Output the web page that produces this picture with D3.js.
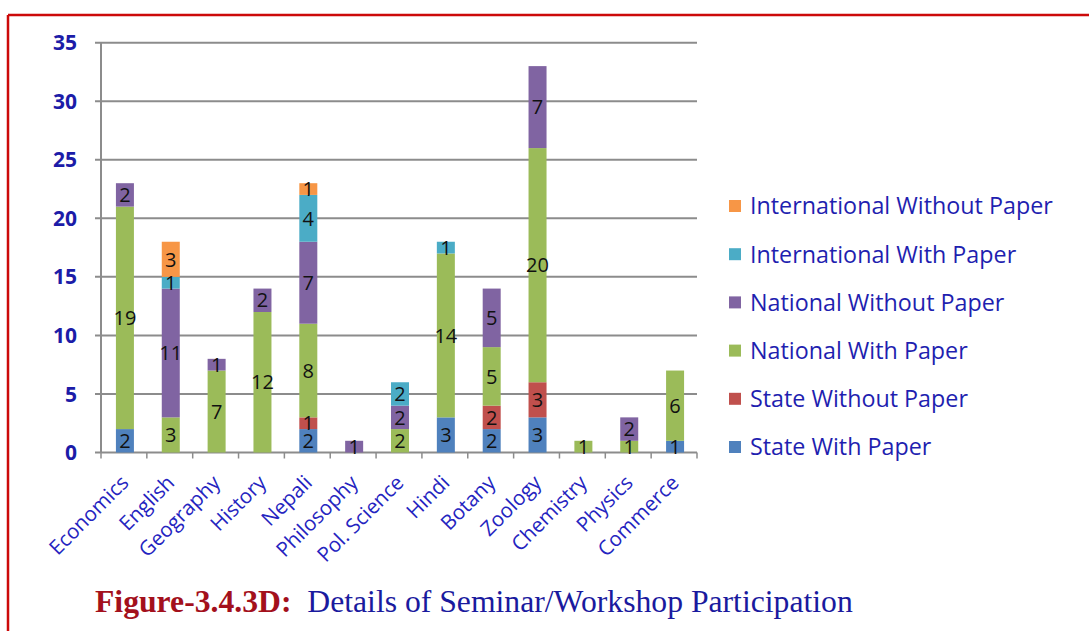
<!DOCTYPE html>
<html>
<head>
<meta charset="utf-8">
<script src="https://cdn.jsdelivr.net/npm/d3@7"></script>
<style>
  html, body { margin: 0; padding: 0; background: #fff; }
  svg { display: block; }
</style>
</head>
<body>
<svg id="chart" width="1089" height="631"></svg>
<script>
const categories = ["Economics","English","Geography","History","Nepali","Philosophy","Pol. Science","Hindi","Botany","Zoology","Chemistry","Physics","Commerce"];
const seriesNames = ["State With Paper","State Without Paper","National With Paper","National Without Paper","International With Paper","International Without Paper"];
const stateWithPaper          = [2,0,0,0,2,0,0,3,2,3,0,0,1];
const stateWithoutPaper       = [0,0,0,0,1,0,0,0,2,3,0,0,0];
const nationalWithPaper       = [19,3,7,12,8,0,2,14,5,20,1,1,6];
const nationalWithoutPaper    = [2,11,1,2,7,1,2,0,5,7,0,2,0];
const internationalWithPaper  = [0,1,0,0,4,0,2,1,0,0,0,0,0];
const internationalWithoutPaper = [0,3,0,0,1,0,0,0,0,0,0,0,0];
const yTicks = [0,5,10,15,20,25,30,35];
const seriesColors = ["#4f81bd","#c0504d","#9bbb59","#8064a2","#4bacc6","#f79646"];

const seriesValues = [stateWithPaper,stateWithoutPaper,nationalWithPaper,nationalWithoutPaper,internationalWithPaper,internationalWithoutPaper];
const table = categories.map((c,i) => {
  const row = {category: c};
  seriesNames.forEach((s,j) => row[s] = seriesValues[j][i]);
  return row;
});

const svg = d3.select("#chart");

// red frame
svg.append("line").attr("x1",8).attr("y1",15).attr("x2",1089).attr("y2",15)
  .attr("stroke","#cc0a0a").attr("stroke-width",2.5);
svg.append("line").attr("x1",8).attr("y1",15).attr("x2",8).attr("y2",631)
  .attr("stroke","#cc0a0a").attr("stroke-width",2.5);

const xb = d3.scaleBand().domain(categories).range([101, 697]);
const y = d3.scaleLinear().domain([0,35]).range([452.5, 42.7]);

// gridlines
svg.append("g").selectAll("line").data(yTicks).join("line")
  .attr("x1",95).attr("x2",697)
  .attr("y1",d=>y(d)).attr("y2",d=>y(d))
  .attr("stroke","#8c8c8c").attr("stroke-width",2);

// y axis line
svg.append("line").attr("x1",101).attr("x2",101).attr("y1",y(35)).attr("y2",y(0))
  .attr("stroke","#8c8c8c").attr("stroke-width",2);

// x axis ticks at band boundaries
const boundaries = categories.map(c => xb(c)).concat([697]);
svg.append("g").selectAll("line").data(boundaries).join("line")
  .attr("x1",d=>d).attr("x2",d=>d).attr("y1",y(0)).attr("y2",y(0)+6)
  .attr("stroke","#8c8c8c").attr("stroke-width",1.5);

// y tick labels
svg.append("g").selectAll("text").data(yTicks).join("text")
  .attr("x",77).attr("y",d=>y(d)).attr("dy","0.36em")
  .attr("text-anchor","end")
  .attr("font-family","'Open Sans', sans-serif").attr("font-weight","bold")
  .attr("font-size",21).attr("fill","#1c1ca8")
  .text(d=>d);

// stacked bars
const stack = d3.stack().keys(seriesNames);
const stacked = stack(table);
const barW = 18;
const layer = svg.append("g").selectAll("g").data(stacked).join("g")
  .attr("fill",(d,i)=>seriesColors[i]);
layer.selectAll("rect").data(d=>d.map(p=>({p, cat:p.data.category}))).join("rect")
  .attr("x",d=>xb(d.cat)+xb.bandwidth()/2 - barW/2 + 1)
  .attr("width",barW)
  .attr("y",d=>y(d.p[1]))
  .attr("height",d=>y(d.p[0])-y(d.p[1]));

// value labels
const labels = svg.append("g");
stacked.forEach((s) => {
  s.forEach(p => {
    const v = p[1]-p[0];
    if (v > 0) {
      labels.append("text")
        .attr("x", xb(p.data.category)+xb.bandwidth()/2 + 1)
        .attr("y", y((p[0]+p[1])/2))
        .attr("dy","0.36em")
        .attr("text-anchor","middle")
        .attr("font-family","'Open Sans', sans-serif")
        .attr("font-size",20)
        .attr("fill","#111")
        .text(v);
    }
  });
});

// x labels
svg.append("g").selectAll("text").data(categories).join("text")
  .attr("transform",d=>`translate(${xb(d)+xb.bandwidth()/2+6},${484}) rotate(-45)`)
  .attr("text-anchor","end")
  .attr("font-family","'Open Sans', sans-serif")
  .attr("font-size",20.5)
  .attr("fill","#2424c0")
  .text(d=>d);

// legend (top to bottom reversed order)
const legendOrder = seriesNames.slice().reverse();
const legendColors = seriesColors.slice().reverse();
const lg = svg.append("g");
legendOrder.forEach((name,i) => {
  const cy = 206 + i*48.2;
  lg.append("rect").attr("x",729).attr("y",cy-6).attr("width",12).attr("height",12)
    .attr("fill",legendColors[i]);
  lg.append("text").attr("x",750).attr("y",cy).attr("dy","0.36em")
    .attr("font-family","'Open Sans', sans-serif").attr("font-size",20)
    .attr("fill","#1f1fb0").text(name).attr("class","lgt");
});
// fit legend font to target width
const firstLg = lg.select("text.lgt").node();
const w0 = firstLg.getComputedTextLength();
const fs = 20 * 303 / w0;
lg.selectAll("text.lgt").attr("font-size", fs);

// caption
const cap = svg.append("text").attr("x",95).attr("y",612)
  .attr("font-family","'Liberation Serif', serif").attr("font-size",28);
cap.append("tspan").attr("fill","#a3101c").attr("font-weight","bold").text("Figure-3.4.3D:");
cap.append("tspan").attr("fill","#1a1a9e").text("\u00a0 Details of Seminar/Workshop Participation");
const cw = cap.node().getComputedTextLength();
cap.attr("font-size", 28 * 758 / cw);
</script>
</body>
</html>
